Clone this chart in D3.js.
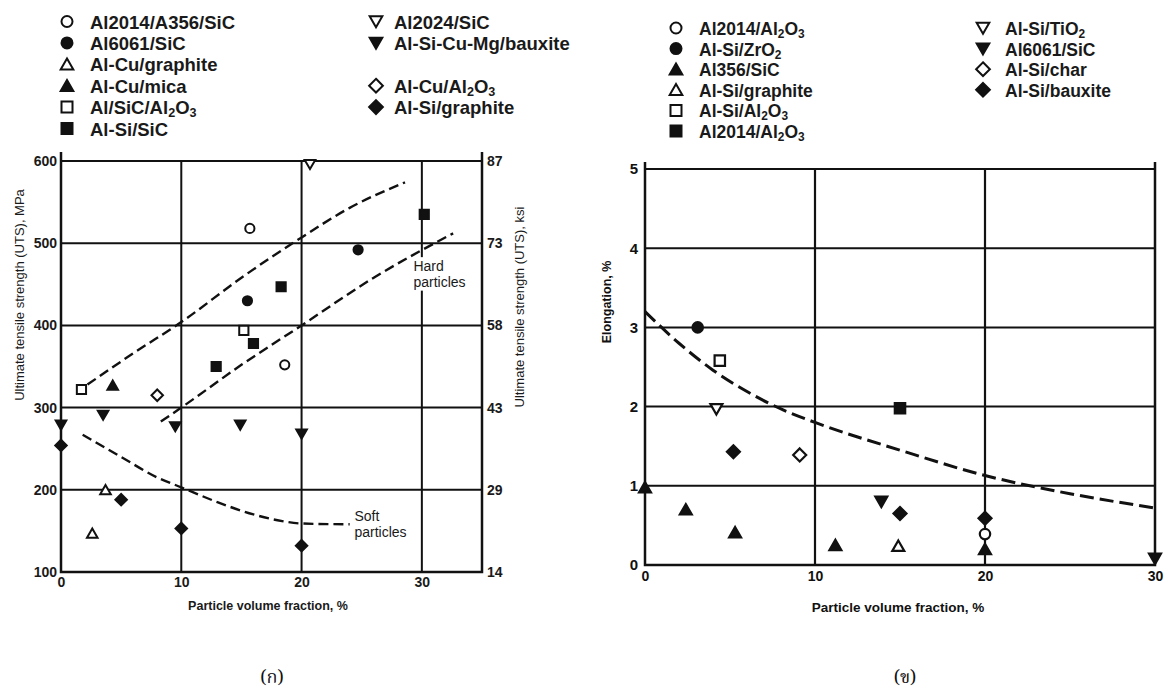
<!DOCTYPE html>
<html>
<head>
<meta charset="utf-8">
<script src="https://cdn.jsdelivr.net/npm/d3@7"></script>
<style>
  body { margin: 0; background: #fff; }
  svg { display: block; font-family: "Liberation Sans", Arial, Helvetica, sans-serif; }
</style>
</head>
<body>
<svg id="fig" width="1168" height="695"></svg>
<script>
// ---- data: (ก) tensile strength vs particle volume fraction ----
// "_" marks a subscript character in the names
const utsNames = ["Al2014/A356/SiC", "Al6061/SiC", "Al-Cu/graphite", "Al-Cu/mica", "Al/SiC/Al_2O_3", "Al-Si/SiC",
                  "Al2024/SiC", "Al-Si-Cu-Mg/bauxite", "Al-Cu/Al_2O_3", "Al-Si/graphite"];
const utsShapes = ["circle", "circle", "triangle", "triangle", "square", "square",
                   "triangleDown", "triangleDown", "diamond", "diamond"];
const utsFilled = [false, true, false, true, false, true, false, true, false, true];
const utsPoints = [
  [[15.7, 518], [18.6, 352]],
  [[15.5, 430], [24.7, 492]],
  [[3.7, 200], [2.6, 147]],
  [[4.3, 327]],
  [[1.7, 322], [15.2, 394]],
  [[12.9, 350], [16.0, 378], [18.3, 447], [30.2, 535]],
  [[20.7, 596]],
  [[0, 279], [3.5, 291], [9.5, 277], [14.9, 279], [20, 268]],
  [[8.0, 315]],
  [[0, 254], [5.0, 188], [10, 153], [20, 132]]
];
const hardUpper = [[2.2, 328], [6, 366], [10, 404], [15, 458], [20, 507], [24, 543], [28.6, 574]];
const hardLower = [[8.3, 283], [10, 300], [15, 352], [20, 400], [26, 458], [32.6, 512]];
const softCurve = [[1.8, 267], [5, 240], [8, 215], [10, 203], [13, 185], [16, 170], [18, 163], [20, 159], [24, 158]];
const utsTicks = [100, 200, 300, 400, 500, 600];
const ksiLabels = ["14", "29", "43", "58", "73", "87"];
const utsFracTicks = [0, 10, 20, 30];

// ---- data: (ข) elongation vs particle volume fraction ----
const elNames = ["Al2014/Al_2O_3", "Al-Si/ZrO_2", "Al356/SiC", "Al-Si/graphite", "Al-Si/Al_2O_3", "Al2014/Al_2O_3",
                 "Al-Si/TiO_2", "Al6061/SiC", "Al-Si/char", "Al-Si/bauxite"];
const elShapes = ["circle", "circle", "triangle", "triangle", "square", "square",
                  "triangleDown", "triangleDown", "diamond", "diamond"];
const elFilled = [false, true, true, false, false, true, false, true, false, true];
const elPoints = [
  [[20, 0.39]],
  [[3.1, 3.0]],
  [[0, 0.98], [2.4, 0.70], [5.3, 0.41], [11.2, 0.25], [20, 0.2]],
  [[14.9, 0.24]],
  [[4.4, 2.58]],
  [[15.0, 1.98]],
  [[4.2, 1.97]],
  [[13.9, 0.80], [30, 0.08]],
  [[9.1, 1.39]],
  [[5.2, 1.43], [15.0, 0.65], [20, 0.59]]
];
const elCurve = [[0, 3.2], [2, 2.8], [4, 2.46], [6, 2.19], [8, 1.97], [10, 1.8], [15, 1.45], [20, 1.13], [25, 0.9], [30, 0.72]];
const elTicks = [0, 1, 2, 3, 4, 5];
const elFracTicks = [0, 10, 20, 30];

const svg = d3.select("#fig");

// marker path centred on 0,0
function shapePath(kind, s) {
  switch (kind) {
    case "circle":
      return "M" + (-s) + ",0A" + s + "," + s + " 0 1,0 " + s + ",0A" + s + "," + s + " 0 1,0 " + (-s) + ",0Z";
    case "square":
      return "M" + (-s) + "," + (-s) + "H" + s + "V" + s + "H" + (-s) + "Z";
    case "triangle":
      return "M0," + (-s * 1.05) + "L" + (s * 1.15) + "," + (s * 0.95) + "L" + (-s * 1.15) + "," + (s * 0.95) + "Z";
    case "triangleDown":
      return "M0," + (s * 1.05) + "L" + (s * 1.15) + "," + (-s * 0.95) + "L" + (-s * 1.15) + "," + (-s * 0.95) + "Z";
    case "diamond":
      return "M0," + (-s * 1.25) + "L" + (s * 1.25) + ",0L0," + (s * 1.25) + "L" + (-s * 1.25) + ",0Z";
  }
}

function drawMarker(g, kind, filled, x, y, s, sw) {
  g.append("path")
    .attr("d", shapePath(kind, s))
    .attr("transform", "translate(" + x + "," + y + ")")
    .attr("fill", filled ? "#111" : "#fff")
    .attr("stroke", "#111")
    .attr("stroke-width", sw);
}

// text with "_x" subscripts
function richText(sel, str, sub) {
  const parts = str.split(/(_.)/).filter(p => p);
  let shifted = false;
  parts.forEach(function (p) {
    if (p[0] === "_") {
      sel.append("tspan").attr("dy", shifted ? 0 : sub).attr("font-size", "68%").text(p[1]);
      shifted = true;
    } else {
      sel.append("tspan").attr("dy", shifted ? -sub : 0).text(p);
      shifted = false;
    }
  });
}

function legend(g, names, shapes, filled, slots, opt) {
  names.forEach(function (name, i) {
    const slot = slots[i];
    const cx = opt.cols[slot[0]];
    const cy = opt.top + slot[1] * opt.step;
    drawMarker(g, shapes[i], filled[i], cx[0], cy, 5.5, 2);
    const t = g.append("text")
      .attr("x", cx[1]).attr("y", cy + 7)
      .attr("font-size", opt.size).attr("font-weight", "bold").attr("fill", "#1a1a1a");
    richText(t, name, 3);
  });
}

// ======================= chart (ก) =======================
(function () {
  const x = d3.scaleLinear().domain([0, 35]).range([61, 482]);
  const y = d3.scaleLinear().domain([100, 600]).range([572, 161]);
  const g = svg.append("g");
  const top = y(600) - 9;

  legend(g, utsNames, utsShapes, utsFilled,
    [[0, 0], [0, 1], [0, 2], [0, 3], [0, 4], [0, 5], [1, 0], [1, 1], [1, 3], [1, 4]],
    { cols: [[67, 90], [376, 394]], top: 21.5, step: 21.4, size: 18.5 });

  // grid
  g.append("g").selectAll("line").data(utsTicks.slice(1)).join("line")
    .attr("x1", x(0)).attr("x2", x(35)).attr("y1", d => y(d)).attr("y2", d => y(d))
    .attr("stroke", "#111").attr("stroke-width", 2);
  g.append("g").selectAll("line").data(utsFracTicks.slice(1)).join("line")
    .attr("x1", d => x(d)).attr("x2", d => x(d)).attr("y1", y(600)).attr("y2", y(100))
    .attr("stroke", "#111").attr("stroke-width", 2);

  // frame
  g.append("path")
    .attr("d", "M" + x(0) + "," + top + "V" + y(100) + "H" + x(35) + "V" + top)
    .attr("fill", "none").attr("stroke", "#111").attr("stroke-width", 2.5);

  // axes labels
  const yAxis = d3.axisLeft(y).tickValues(utsTicks).tickSize(0).tickPadding(4);
  g.append("g").attr("transform", "translate(" + x(0) + ",0)").call(yAxis)
    .call(s => s.select(".domain").remove())
    .selectAll("text").attr("font-size", 14).attr("font-weight", "bold").attr("fill", "#1a1a1a").attr("font-family", null);
  const ksiAxis = d3.axisRight(y).tickValues(utsTicks).tickSize(0).tickPadding(5)
    .tickFormat((d, i) => ksiLabels[i]);
  g.append("g").attr("transform", "translate(" + x(35) + ",0)").call(ksiAxis)
    .call(s => s.select(".domain").remove())
    .selectAll("text").attr("font-size", 14).attr("font-weight", "bold").attr("fill", "#1a1a1a").attr("font-family", null);
  const xAxis = d3.axisBottom(x).tickValues(utsFracTicks).tickSize(0).tickPadding(5);
  g.append("g").attr("transform", "translate(0," + y(100) + ")").call(xAxis)
    .call(s => s.select(".domain").remove())
    .selectAll("text").attr("font-size", 14).attr("font-weight", "bold").attr("fill", "#1a1a1a").attr("font-family", null);

  g.append("text").attr("transform", "translate(24,295) rotate(-90)")
    .attr("text-anchor", "middle").attr("font-size", 13).attr("fill", "#1a1a1a")
    .text("Ultimate tensile strength (UTS), MPa");
  g.append("text").attr("transform", "translate(524,307) rotate(-90)")
    .attr("text-anchor", "middle").attr("font-size", 13).attr("fill", "#1a1a1a")
    .text("Ultimate tensile strength (UTS), ksi");
  g.append("text").attr("x", 268).attr("y", 610)
    .attr("text-anchor", "middle").attr("font-size", 12.5).attr("font-weight", "bold").attr("fill", "#1a1a1a")
    .text("Particle volume fraction, %");

  // trend lines
  const line = d3.line().x(d => x(d[0])).y(d => y(d[1])).curve(d3.curveMonotoneX);
  [hardUpper, hardLower, softCurve].forEach(function (c) {
    g.append("path").attr("d", line(c))
      .attr("fill", "none").attr("stroke", "#111").attr("stroke-width", 2.4)
      .attr("stroke-dasharray", "10,5");
  });

  // curve labels (white box hides the grid line)
  function note(lines, px, py) {
    const t = g.append("text").attr("font-size", 14).attr("fill", "#1a1a1a");
    lines.forEach(function (s, i) {
      t.append("tspan").attr("x", px).attr("y", py + i * 15.5).text(s);
    });
    const b = t.node().getBBox();
    g.insert("rect", () => t.node())
      .attr("x", b.x - 1).attr("y", b.y - 1).attr("width", b.width + 2).attr("height", b.height + 2)
      .attr("fill", "#fff");
  }
  note(["Hard", "particles"], x(29.3), y(466));
  note(["Soft", "particles"], x(24.4), y(162));

  utsPoints.forEach(function (pts, i) {
    pts.forEach(function (p) {
      drawMarker(g, utsShapes[i], utsFilled[i], x(p[0]), y(p[1]), 4.6, 2);
    });
  });
})();

// ======================= chart (ข) =======================
(function () {
  const x = d3.scaleLinear().domain([0, 30]).range([645, 1155]);
  const y = d3.scaleLinear().domain([0, 5]).range([565, 169]);
  const g = svg.append("g");
  const top = y(5) - 7;

  legend(g, elNames, elShapes, elFilled,
    [[0, 0], [0, 1], [0, 2], [0, 3], [0, 4], [0, 5], [1, 0], [1, 1], [1, 2], [1, 3]],
    { cols: [[676, 699], [983, 1005]], top: 28, step: 20.6, size: 17.5 });

  g.append("g").selectAll("line").data(elTicks.slice(1)).join("line")
    .attr("x1", x(0)).attr("x2", x(30)).attr("y1", d => y(d)).attr("y2", d => y(d))
    .attr("stroke", "#111").attr("stroke-width", 2);
  g.append("g").selectAll("line").data(elFracTicks.slice(1, 3)).join("line")
    .attr("x1", d => x(d)).attr("x2", d => x(d)).attr("y1", y(5)).attr("y2", y(0))
    .attr("stroke", "#111").attr("stroke-width", 2.2);

  g.append("path")
    .attr("d", "M" + x(0) + "," + top + "V" + y(0) + "H" + x(30) + "V" + top)
    .attr("fill", "none").attr("stroke", "#111").attr("stroke-width", 2.5);

  const yAxis = d3.axisLeft(y).tickValues(elTicks).tickSize(0).tickPadding(7).tickFormat(d3.format("d"));
  g.append("g").attr("transform", "translate(" + x(0) + ",0)").call(yAxis)
    .call(s => s.select(".domain").remove())
    .selectAll("text").attr("font-size", 15).attr("font-weight", "bold").attr("fill", "#111").attr("font-family", null);
  const xAxis = d3.axisBottom(x).tickValues(elFracTicks).tickSize(0).tickPadding(6).tickFormat(d3.format("d"));
  g.append("g").attr("transform", "translate(0," + y(0) + ")").call(xAxis)
    .call(s => s.select(".domain").remove())
    .selectAll("text").attr("font-size", 14).attr("font-weight", "bold").attr("fill", "#111").attr("font-family", null);

  g.append("text").attr("transform", "translate(611,302) rotate(-90)")
    .attr("text-anchor", "middle").attr("font-size", 12.5).attr("font-weight", "bold").attr("fill", "#111")
    .text("Elongation, %");
  g.append("text").attr("x", 898).attr("y", 612)
    .attr("text-anchor", "middle").attr("font-size", 13.5).attr("font-weight", "bold").attr("fill", "#111")
    .text("Particle volume fraction, %");

  const line = d3.line().x(d => x(d[0])).y(d => y(d[1])).curve(d3.curveMonotoneX);
  g.append("path").attr("d", line(elCurve))
    .attr("fill", "none").attr("stroke", "#111").attr("stroke-width", 3)
    .attr("stroke-dasharray", "14,6");

  elPoints.forEach(function (pts, i) {
    pts.forEach(function (p) {
      drawMarker(g, elShapes[i], elFilled[i], x(p[0]), y(p[1]), 5.2, 2.2);
    });
  });
})();

// captions
svg.append("text").attr("x", 272).attr("y", 683).attr("text-anchor", "middle")
  .attr("font-family", "'Noto Serif Thai','Noto Sans Thai','Tlwg Typo','Garuda','Loma',serif")
  .attr("font-size", 18).attr("fill", "#111").text("(ก)");
svg.append("text").attr("x", 905).attr("y", 683).attr("text-anchor", "middle")
  .attr("font-family", "'Noto Serif Thai','Noto Sans Thai','Tlwg Typo','Garuda','Loma',serif")
  .attr("font-size", 18).attr("fill", "#111").text("(ข)");
</script>
</body>
</html>
